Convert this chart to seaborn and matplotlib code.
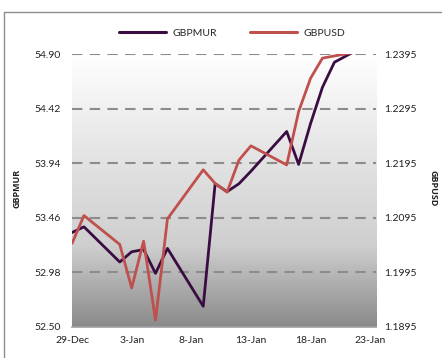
import matplotlib
matplotlib.use("Agg")
import matplotlib.dates as mdates
import matplotlib.pyplot as plt
import numpy as np
import pandas as pd
import seaborn as sns
from matplotlib.colors import LinearSegmentedColormap
from matplotlib.lines import Line2D

dates = pd.to_datetime([
    "2022-12-29", "2022-12-30", "2023-01-02", "2023-01-03", "2023-01-04",
    "2023-01-05", "2023-01-06", "2023-01-09", "2023-01-10", "2023-01-11",
    "2023-01-12", "2023-01-13", "2023-01-16", "2023-01-17", "2023-01-18",
    "2023-01-19", "2023-01-20", "2023-01-23",
])
gbpmur = [53.33, 53.38, 53.07, 53.16, 53.18, 52.97, 53.19, 52.68, 53.76,
          53.69, 53.76, 53.87, 54.22, 53.93, 54.29, 54.61, 54.83, 55.00]
gbpusd = [1.2048, 1.2099, 1.2046, 1.1966, 1.2052, 1.1907, 1.2093, 1.2183,
          1.2158, 1.2142, 1.2201, 1.2227, 1.2192, 1.2290, 1.2351, 1.2388,
          1.2392, 1.2404]
left_ticks = [52.50, 52.98, 53.46, 53.94, 54.42, 54.90]
right_ticks = [1.1895, 1.1995, 1.2095, 1.2195, 1.2295, 1.2395]

df = pd.DataFrame({"date": dates, "GBPMUR": gbpmur, "GBPUSD": gbpusd})

sns.set_style("white")
plt.rcParams["font.family"] = ["Lato", "DejaVu Sans"]

C_MUR = "#3a0d42"
C_USD = "#c0504d"
GRID = "#8c8c8c"

fig = plt.figure(figsize=(4.42, 3.58), dpi=100)
ax = fig.add_axes([0.163, 0.0874, 0.688, 0.7609])

# gradient background of the plot area
grad = LinearSegmentedColormap.from_list(
    "bg", [(0.0, "#8a8a8a"), (0.3, "#cfcfcf"), (0.6, "#e2e2e2"), (1.0, "#ffffff")])
ax.imshow(np.linspace(0, 1, 256).reshape(-1, 1), cmap=grad, aspect="auto",
          origin="lower", extent=[0, 1, 0, 1], transform=ax.transAxes, zorder=0)

sns.lineplot(data=df, x="date", y="GBPMUR", ax=ax, color=C_MUR, lw=2.0,
             legend=False, zorder=3)
ax2 = ax.twinx()
sns.lineplot(data=df, x="date", y="GBPUSD", ax=ax2, color=C_USD, lw=2.0,
             legend=False, zorder=3)

x0 = pd.Timestamp("2022-12-29")
ax.set_xlim(x0, x0 + pd.Timedelta(days=25.5))
ax.set_ylim(left_ticks[0], left_ticks[-1])
ax2.set_ylim(right_ticks[0], right_ticks[-1])
ax.set_yticks(left_ticks)
ax.set_yticklabels([f"{v:.2f}" for v in left_ticks])
ax2.set_yticks(right_ticks)
ax2.set_yticklabels([f"{v:.4f}" for v in right_ticks])

xt = [x0 + pd.Timedelta(days=5 * i) for i in range(6)]
ax.set_xticks(xt)
ax.xaxis.set_major_formatter(mdates.DateFormatter("%-d-%b"))

for v in left_ticks[1:]:
    ax.axhline(v, color=GRID, lw=1.5, ls=(0, (5, 3.5)), zorder=1)

for a in (ax, ax2):
    for s in a.spines.values():
        s.set_visible(False)
    a.tick_params(axis="y", length=0, labelsize=7.5, labelcolor="#222222", pad=8)
ax.spines["bottom"].set_visible(True)
ax.spines["bottom"].set_color("#a0a0a0")
ax.spines["bottom"].set_linewidth(1.2)
ax.tick_params(axis="x", length=4, width=1.2, color="#a0a0a0", labelsize=7.5,
               labelcolor="#222222", pad=3)
ax2.tick_params(axis="y", pad=6)

ax.set_xlabel("")
ax.set_ylabel("")
ax2.set_ylabel("")
lab_font = dict(fontsize=6.5, fontweight="bold", family=["Open Sans", "DejaVu Sans"],
                ha="center", va="center", color="#222222")
fig.text(17 / 442, 1 - 188 / 358, "GBPMUR", rotation=90, **lab_font)
fig.text(433 / 442, 1 - 188 / 358, "GBPUSD", rotation=-90, **lab_font)

handles = [Line2D([], [], color=C_MUR, lw=2.2), Line2D([], [], color=C_USD, lw=2.2)]
fig.legend(handles, ["GBPMUR", "GBPUSD"], loc="center", ncol=2,
           bbox_to_anchor=(0.525, 0.908), frameon=False, fontsize=7.5,
           handlelength=4.5, columnspacing=3.2, handletextpad=0.6)

# outer chart frame (cropped)
fig.add_artist(Line2D([4 / 442, 4 / 442], [0, 1 - 12 / 358],
                      transform=fig.transFigure, color="#8c8c8c", lw=1.0))
fig.add_artist(Line2D([4 / 442, 1], [1 - 12 / 358, 1 - 12 / 358],
                      transform=fig.transFigure, color="#8c8c8c", lw=1.0))

fig.savefig("out.png", dpi=100)
